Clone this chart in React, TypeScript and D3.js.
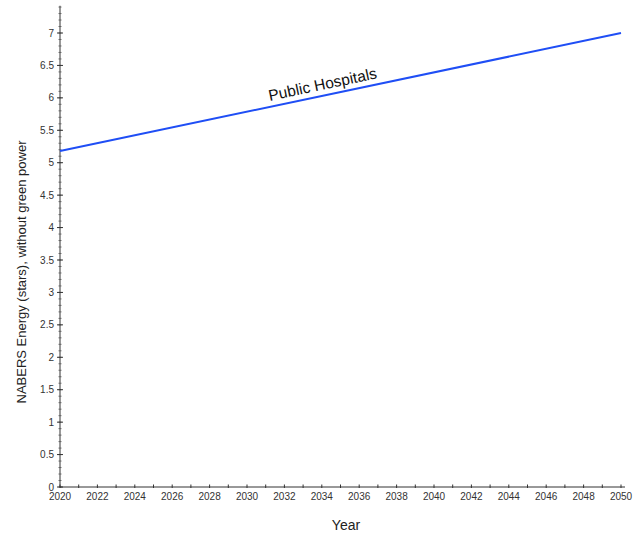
import React from "react";
import * as d3 from "d3";

const years = [2020, 2050];
const stars = [5.18, 7.0];
const xTickYears = d3.range(2020, 2051, 1);
const xLabelYears = d3.range(2020, 2051, 2);
const yMajor = d3.range(0, 7.01, 0.5);
const yMinor = d3.range(0, 7.41, 0.1);
const seriesName = "Public Hospitals";

const W = 640, H = 533;
const m = { left: 60, right: 19, top: 6, bottom: 46 };

export default function App() {
  const x = d3.scaleLinear().domain([2020, 2050]).range([m.left, 621]);
  const y = d3.scaleLinear().domain([0, 7]).range([487, 33]);
  const line = d3.line<number>().x((_, i) => x(years[i])).y((d) => y(d));
  const pts = years.map((yr, i) => [x(yr), y(stars[i])]);
  const angle = (Math.atan2(pts[1][1] - pts[0][1], pts[1][0] - pts[0][0]) * 180) / Math.PI;
  const lt = 14.1;
  const lx = x(2020 + lt);
  const ly = y(5.18 + (7 - 5.18) * (lt / 30)) - 6;
  const font = "'Liberation Sans', Arial, Helvetica, sans-serif";
  return (
    <svg width={W} height={H} style={{ position: "absolute", left: 0, top: 0, background: "#fff" }} fontFamily={font}>
      {/* y axis */}
      <line x1={x(2020)} x2={x(2020)} y1={y(7.42)} y2={y(0)} stroke="#333" strokeWidth={1} />
      {yMinor.map((v) => (
        <line key={"ym" + v} x1={x(2020) - 1.5} x2={x(2020) + 1.5} y1={y(v)} y2={y(v)} stroke="#555" strokeWidth={0.8} />
      ))}
      {yMajor.map((v) => (
        <g key={"yM" + v}>
          <line x1={x(2020) - 3} x2={x(2020) + 3} y1={y(v)} y2={y(v)} stroke="#333" strokeWidth={1} />
          <text x={x(2020) - 6} y={y(v)} dy="0.35em" textAnchor="end" fontSize={10} fill="#333">
            {d3.format("~g")(v)}
          </text>
        </g>
      ))}
      {/* x axis */}
      <line x1={x(2020)} x2={x(2050) + 4} y1={y(0)} y2={y(0)} stroke="#333" strokeWidth={1} />
      {xTickYears.map((v) => (
        <line key={"xt" + v} x1={x(v)} x2={x(v)} y1={y(0) - 2.5} y2={y(0) + 1} stroke="#333" strokeWidth={1} />
      ))}
      {xLabelYears.map((v) => (
        <text key={"xl" + v} x={x(v)} y={y(0) + 13} textAnchor="middle" fontSize={10} fill="#333">
          {v}
        </text>
      ))}
      {/* series */}
      <path d={line(stars) || ""} fill="none" stroke="#1f4ef5" strokeWidth={2} />
      <text
        x={lx}
        y={ly}
        textAnchor="middle"
        fontSize={15.5}
        fill="#111"
        transform={`rotate(${angle}, ${lx}, ${ly})`}
      >
        {seriesName}
      </text>
      {/* titles */}
      <text x={346} y={530} textAnchor="middle" fontSize={14} fill="#222">
        Year
      </text>
      <text
        transform={`translate(26, 272) rotate(-90)`}
        textAnchor="middle"
        fontSize={13}
        fill="#222"
      >
        NABERS Energy (stars), without green power
      </text>
    </svg>
  );
}
